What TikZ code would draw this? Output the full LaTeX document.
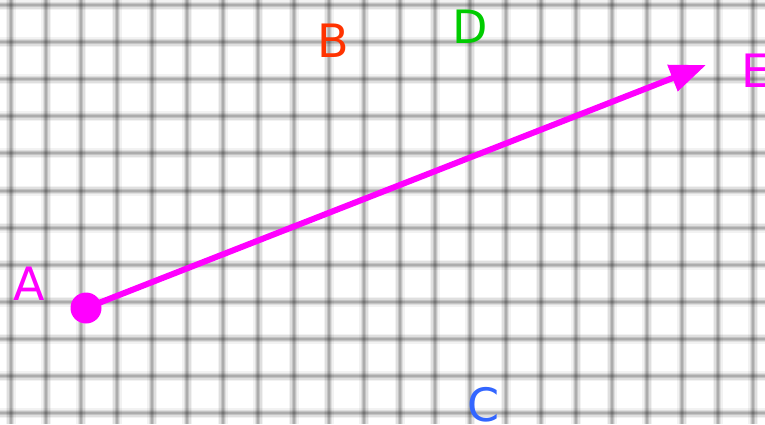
\documentclass[tikz,border=0pt]{standalone}
\usepackage{fontspec}
\setmainfont{DejaVu Sans}
\usetikzlibrary{arrows.meta}
\definecolor{ptmagenta}{HTML}{FF00FF}
\definecolor{ptorange}{HTML}{FF3300}
\definecolor{ptgreen}{HTML}{00CC00}
\definecolor{ptblue}{HTML}{3366FF}

\begin{document}
\begin{tikzpicture}[
    x=1pt, y=-1pt,
    every node/.style={font=\fontsize{46}{50}\selectfont, inner sep=0pt},
    vec/.style={-{Triangle[length=36pt, width=27pt]}, line width=6pt, ptmagenta}
]
\useasboundingbox (0,0) rectangle (765,424);

% Blurred grid paper
\foreach \w/\o in {10/0.05, 7/0.08, 4/0.12, 2/0.12}
{
  \foreach \k in {0,...,21}
    { \draw[black, opacity=\o, line width=\w pt] (10.7+35.35*\k,0) -- (10.7+35.35*\k,424); }
  \foreach \k in {0,...,11}
    { \draw[black, opacity=\o, line width=\w pt] (0,5+37.1*\k) -- (765,5+37.1*\k); }
}

% Labels
\node[text=ptmagenta] (labA) at (29.5,284) {A};
\node[text=ptorange] (labB) at (333,41) {B};
\node[text=ptblue] (labC) at (484,405) {C};
\node[text=ptgreen] (labD) at (470,27) {D};
\node[text=ptmagenta] (labE) at (756,71) {E};

% Vector from A
\node[circle, fill=ptmagenta, minimum size=31pt] (ptA) at (86,308) {};
\coordinate (tipE) at (706,65);
\draw[vec] (ptA.center) -- (tipE);
\end{tikzpicture}
\end{document}
